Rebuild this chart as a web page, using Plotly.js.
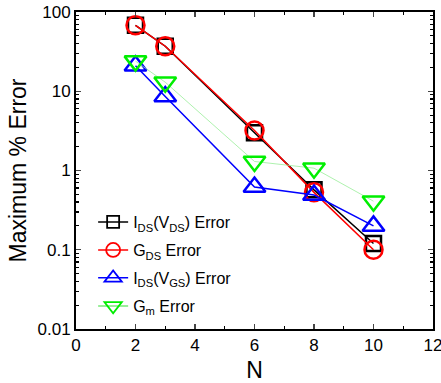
<!DOCTYPE html>
<html><head><meta charset="utf-8">
<script src="https://cdn.plot.ly/plotly-3.0.1.min.js"></script>
<style>body{margin:0;background:#fff}#c{width:441px;height:383px}</style>
</head><body><div id="c"></div>
<script>
const N = [2, 3, 6, 8, 10];
const idsVds = [68, 37, 3.0, 0.57, 0.12];
const gds = [68, 37, 3.2, 0.53, 0.10];
const idsVgs = [21, 8.6, 0.62, 0.49, 0.20];
const gm = [24, 13, 1.3, 1.07, 0.41];
const names = ['I<sub>DS</sub>(V<sub>DS</sub>) Error', 'G<sub>DS</sub> Error', 'I<sub>DS</sub>(V<sub>GS</sub>) Error', 'G<sub>m</sub> Error'];
const xTicks = [0, 2, 4, 6, 8, 10, 12];
const yTicks = [0.01, 0.1, 1, 10, 100];
const yTickText = ['0.01', '0.1', '1', '10', '100'];

const series = [
  {y: idsVds, color: '#000', lcolor: '#000', lw: 1.5, sym: 'square-open', size: 15, lsize: 12},
  {y: gds, color: '#ff0000', lcolor: '#ff0000', lw: 1.5, sym: 'circle-open', size: 18, lsize: 14},
  {y: idsVgs, color: '#0000ff', lcolor: '#0000ff', lw: 1.5, sym: 'triangle-up-open', size: 19, lsize: 15},
  {y: gm, color: '#00ee00', lcolor: '#99ee99', lw: 0.8, sym: 'triangle-down-open', size: 19, lsize: 15}
];
const legNames = ['legend', 'legend2', 'legend3', 'legend4'];

const traces = [];
series.forEach((s, i) => {
  traces.push({x: N, y: s.y, name: names[i], showlegend: false, mode: 'lines+markers',
    line: {color: s.lcolor, width: s.lw},
    marker: {symbol: s.sym, size: s.size, color: s.color, line: {width: 2.5, color: s.color}}});
});
series.forEach((s, i) => {
  traces.push({x: [null], y: [null], name: names[i], legend: legNames[i], showlegend: true, mode: 'lines+markers',
    line: {color: s.lcolor, width: i === 3 ? 2 : s.lw},
    marker: {symbol: s.sym, size: s.lsize, color: s.color, line: {width: 1.8, color: s.color}}});
});

function leg(y) {
  return {x: 0.048, y: y, xanchor: 'left', yanchor: 'middle', bgcolor: 'rgba(0,0,0,0)',
          font: {size: 16}, borderwidth: 0};
}

const layout = {
  width: 441, height: 383,
  margin: {l: 76, r: 8, t: 12, b: 54},
  paper_bgcolor: '#fff', plot_bgcolor: '#fff',
  font: {family: 'Arial, Liberation Sans, sans-serif', color: '#000', size: 17},
  showlegend: true,
  legend: leg(0.3375), legend2: leg(0.249), legend3: leg(0.161), legend4: leg(0.0726),
  xaxis: {range: [0, 12], tickvals: xTicks, ticks: 'inside', ticklen: 5, tickwidth: 1.2,
          ticklabeloverflow: 'allow',
          showline: true, linewidth: 2, linecolor: '#000', mirror: 'allticks', showgrid: false, zeroline: false,
          minor: {dtick: 1, ticks: 'inside', ticklen: 3, tickcolor: '#000', tickwidth: 1.2},
          title: {text: 'N', font: {size: 23}, standoff: 8}},
  yaxis: {type: 'log', range: [-2, 2], ticks: 'inside', ticklen: 5, tickwidth: 1.2,
          showline: true, linewidth: 2, linecolor: '#000', mirror: 'allticks', showgrid: false, zeroline: false,
          minor: {dtick: 'D1', ticks: 'inside', ticklen: 3, tickcolor: '#000', tickwidth: 1.2},
          tickvals: yTicks, ticktext: yTickText,
          title: {text: 'Maximum % Error', font: {size: 23}, standoff: 4}}
};
Plotly.newPlot('c', traces, layout, {displayModeBar: false, staticPlot: true});
</script></body></html>
